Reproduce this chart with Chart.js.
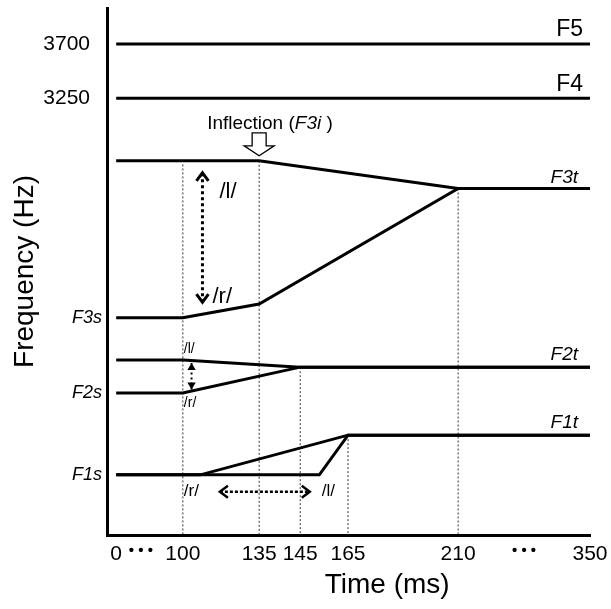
<!DOCTYPE html>
<html>
<head>
<meta charset="utf-8">
<script src="https://cdn.jsdelivr.net/npm/chart.js@4/dist/chart.umd.min.js"></script>
<style>
  body { margin: 0; background: #fff; }
  canvas { display: block; }
</style>
</head>
<body>
<canvas id="formantes" width="611" height="609"></canvas>
<script>
// eje x: marcas (ms), con cortes "• • •"
const xTickValues = [0, 37, 100, 135, 145, 165, 210, 280, 350];
const xTickLabels = ["0", "• • •", "100", "135", "145", "165", "210", "• • •", "350"];
const yTickValues = [3700, 3250];

// formantes: tiempo (ms) y frecuencia (Hz)
const f5Times = [0, 350];
const f5Hz = [3700, 3700];
const f4Times = [0, 350];
const f4Hz = [3250, 3250];
const f3lTimes = [0, 135, 210, 350];
const f3lHz = [2730, 2730, 2500, 2500];
const f3rTimes = [0, 100, 135, 210, 350];
const f3rHz = [1425, 1425, 1540, 2500, 2500];
const f2lTimes = [0, 100, 145, 350];
const f2lHz = [1075, 1075, 1015, 1015];
const f2rTimes = [0, 100, 145, 350];
const f2rHz = [800, 800, 1015, 1015];
const f1rTimes = [0, 108, 165, 350];
const f1rHz = [120, 120, 450, 450];
const f1lTimes = [0, 153, 165, 350];
const f1lHz = [120, 120, 450, 450];

// lineas punteadas verticales
const guideTimes = [100, 135, 145, 165, 210];
const guideTopHz = [2700, 2730, 1015, 450, 2500];

// flechas /l/ - /r/
const arrowF3Times = [109, 109];
const arrowF3Hz = [1555, 2630];
const arrowF2Times = [104, 104];
const arrowF2Hz = [830, 1050];
const arrowF1Times = [117, 149];
const arrowF1Hz = [-20, -20];

const yMin = -380;
const yMax = 4000;

// el eje de tiempo no es lineal: tramos entre las marcas
const breakMs = [0, 100, 135, 145, 165, 210, 350];
const breakPos = [0.019, 0.157, 0.315, 0.4, 0.499, 0.727, 1];

const FAMILIA = "'Liberation Sans', Arial, sans-serif";

function interp(v, xs, ys) {
  if (v <= xs[0]) return ys[0];
  for (let i = 1; i < xs.length; i++) {
    if (v <= xs[i]) {
      return ys[i - 1] + (v - xs[i - 1]) / (xs[i] - xs[i - 1]) * (ys[i] - ys[i - 1]);
    }
  }
  return ys[ys.length - 1];
}

class EjeCortado extends Chart.LinearScale {
  static id = "cortado";
  static defaults = Chart.LinearScale.defaults;
  getPixelForValue(value) {
    return this.getPixelForDecimal(interp(value, breakMs, breakPos));
  }
  getValueForPixel(pixel) {
    return interp(this.getDecimalForPixel(pixel), breakPos, breakMs);
  }
}
Chart.register(EjeCortado);

const puntos = (ts, hs) => ts.map((t, i) => ({ x: t, y: hs[i] }));

const linea = (ts, hs) => ({
  data: puntos(ts, hs),
  borderColor: "#000",
  borderWidth: 3,
  pointRadius: 0,
  showLine: true,
  order: 1
});

const guias = guideTimes.map((t, i) => ({
  data: puntos([t, t], [guideTopHz[i], yMin]),
  borderColor: "#333",
  borderWidth: 1,
  borderDash: [2, 2],
  pointRadius: 0,
  showLine: true,
  order: 2
}));

function flecha(ctx, x1, y1, x2, y2, ancho, guion, s, relleno) {
  ctx.save();
  ctx.strokeStyle = "#000";
  ctx.fillStyle = "#000";
  ctx.lineWidth = ancho;
  ctx.setLineDash(guion);
  ctx.beginPath();
  ctx.moveTo(x1, y1);
  ctx.lineTo(x2, y2);
  ctx.stroke();
  ctx.setLineDash([]);
  const ang = Math.atan2(y2 - y1, x2 - x1);
  [[x1, y1, ang + Math.PI], [x2, y2, ang]].forEach(([x, y, a]) => {
    ctx.save();
    ctx.translate(x, y);
    ctx.rotate(a);
    ctx.beginPath();
    if (relleno) {
      ctx.moveTo(0, 0);
      ctx.lineTo(-s, -s * 0.6);
      ctx.lineTo(-s, s * 0.6);
      ctx.closePath();
      ctx.fill();
    } else {
      ctx.moveTo(-s, -s * 0.75);
      ctx.lineTo(0, 0);
      ctx.lineTo(-s, s * 0.75);
      ctx.stroke();
    }
    ctx.restore();
  });
  ctx.restore();
}

function texto(ctx, str, x, y, size, align, italica) {
  ctx.font = (italica ? "italic " : "") + size + "px " + FAMILIA;
  ctx.textAlign = align;
  ctx.textBaseline = "middle";
  ctx.fillText(str, x, y);
}

const anotaciones = {
  id: "anotaciones",
  afterDatasetsDraw(chart) {
    const { ctx, chartArea, scales: { x, y } } = chart;
    ctx.save();
    ctx.fillStyle = "#000";

    // nombres de formantes
    texto(ctx, "F5", chartArea.right - 7, y.getPixelForValue(f5Hz[1]) - 14, 23, "right", false);
    texto(ctx, "F4", chartArea.right - 7, y.getPixelForValue(f4Hz[1]) - 14, 23, "right", false);
    texto(ctx, "F3t", chartArea.right - 12, y.getPixelForValue(f3lHz[3]) - 11, 19, "right", true);
    texto(ctx, "F2t", chartArea.right - 12, y.getPixelForValue(f2lHz[3]) - 12, 19, "right", true);
    texto(ctx, "F1t", chartArea.right - 12, y.getPixelForValue(f1lHz[3]) - 12, 19, "right", true);
    texto(ctx, "F3s", chartArea.left - 5, y.getPixelForValue(f3rHz[0]), 18, "right", true);
    texto(ctx, "F2s", chartArea.left - 5, y.getPixelForValue(f2rHz[0]), 18, "right", true);
    texto(ctx, "F1s", chartArea.left - 5, y.getPixelForValue(f1rHz[0]), 18, "right", true);

    // flechas
    const a3x = x.getPixelForValue(arrowF3Times[0]);
    const a3b = y.getPixelForValue(arrowF3Hz[0]);
    const a3t = y.getPixelForValue(arrowF3Hz[1]);
    flecha(ctx, a3x, a3b, a3x, a3t, 3, [3, 3], 8, false);
    texto(ctx, "/l/", a3x + 17, a3t + 19, 22, "left", false);
    texto(ctx, "/r/", a3x + 10, a3b - 5, 22, "left", false);

    const a2x = x.getPixelForValue(arrowF2Times[0]);
    const a2b = y.getPixelForValue(arrowF2Hz[0]);
    const a2t = y.getPixelForValue(arrowF2Hz[1]);
    flecha(ctx, a2x, a2b, a2x, a2t, 2, [2, 3], 7, true);
    const x100 = x.getPixelForValue(100);
    texto(ctx, "/l/", x100 + 1, y.getPixelForValue(f2lHz[0]) - 11, 14, "left", false);
    texto(ctx, "/r/", x100 + 1, y.getPixelForValue(f2rHz[0]) + 10, 14, "left", false);

    const a1l = x.getPixelForValue(arrowF1Times[0]);
    const a1r = x.getPixelForValue(arrowF1Times[1]);
    const a1y = y.getPixelForValue(arrowF1Hz[0]);
    flecha(ctx, a1l, a1y, a1r, a1y, 2.5, [3, 2], 8, false);
    texto(ctx, "/r/", x100 + 1, a1y, 17, "left", false);
    texto(ctx, "/l/", a1r + 12, a1y, 17, "left", false);

    // flecha hueca de la inflexion
    const px = x.getPixelForValue(f3lTimes[1]);
    const py = y.getPixelForValue(f3lHz[1]) - 5;
    ctx.beginPath();
    ctx.moveTo(px, py);
    ctx.lineTo(px - 15, py - 10);
    ctx.lineTo(px - 7, py - 10);
    ctx.lineTo(px - 7, py - 23);
    ctx.lineTo(px + 7, py - 23);
    ctx.lineTo(px + 7, py - 10);
    ctx.lineTo(px + 15, py - 10);
    ctx.closePath();
    ctx.fillStyle = "#fff";
    ctx.fill();
    ctx.lineWidth = 1.3;
    ctx.strokeStyle = "#000";
    ctx.stroke();
    ctx.fillStyle = "#000";

    let tx = px - 52;
    const ty = py - 32;
    const partes = [["Inflection (", false], ["F3i", true], [" )", false]];
    partes.forEach(([s, it]) => {
      texto(ctx, s, tx, ty, 19, "left", it);
      tx += ctx.measureText(s).width;
    });

    // titulo del eje x
    texto(ctx, "Time (ms)", chartArea.left + 0.58 * chartArea.width, 585, 28, "center", false);
    ctx.restore();
  }
};

const ctx = document.getElementById("formantes").getContext("2d");
const grafico = new Chart(ctx, {
  type: "scatter",
  data: {
    datasets: [
      linea(f5Times, f5Hz),
      linea(f4Times, f4Hz),
      linea(f3lTimes, f3lHz),
      linea(f3rTimes, f3rHz),
      linea(f2lTimes, f2lHz),
      linea(f2rTimes, f2rHz),
      linea(f1rTimes, f1rHz),
      linea(f1lTimes, f1lHz),
      ...guias
    ]
  },
  options: {
    responsive: false,
    animation: false,
    layout: { padding: { left: 0, top: 8, right: 21, bottom: 0 }, autoPadding: false },
    plugins: { legend: { display: false }, tooltip: { enabled: false } },
    scales: {
      x: {
        type: "cortado",
        position: "bottom",
        min: 0,
        max: 350,
        grid: { display: false, drawTicks: false },
        border: { display: true, color: "#000", width: 3 },
        afterBuildTicks: (s) => { s.ticks = xTickValues.map((v) => ({ value: v })); },
        afterFit: (s) => {
          s.height = 74;
          s.paddingLeft = 0;
          s.paddingRight = 0;
        },
        ticks: {
          autoSkip: false,
          maxRotation: 0,
          padding: 7,
          color: "#000",
          font: (c) => xTickLabels[c.index] === "• • •"
            ? { family: FAMILIA, size: 15, weight: "bold" }
            : { family: FAMILIA, size: 21 },
          callback: (v, i) => xTickLabels[i]
        }
      },
      y: {
        min: yMin,
        max: yMax,
        grid: { display: false, drawTicks: false },
        border: { display: true, color: "#000", width: 3 },
        afterBuildTicks: (s) => { s.ticks = yTickValues.map((v) => ({ value: v })); },
        afterFit: (s) => {
          s.width = 107;
          s.paddingTop = 0;
          s.paddingBottom = 0;
        },
        ticks: {
          padding: 17,
          color: "#000",
          font: { family: FAMILIA, size: 21 },
          callback: (v) => String(v)
        },
        title: {
          display: true,
          text: "Frequency (Hz)",
          color: "#000",
          font: { family: FAMILIA, size: 28 },
          padding: { top: 8, bottom: 0 }
        }
      }
    }
  },
  plugins: [anotaciones]
});
</script>
</body>
</html>
